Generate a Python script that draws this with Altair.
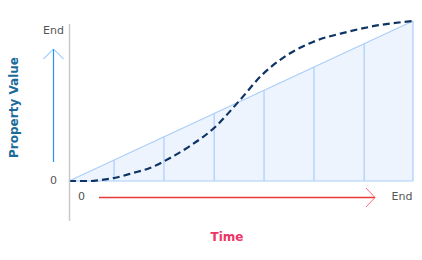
import altair as alt
import pandas as pd

# Linear reference (triangle) and eased curve, normalized time 0..1, value 0..1
curve_t = [0.0, 0.061, 0.09, 0.131, 0.186, 0.235, 0.294, 0.352, 0.4215, 0.497, 0.561, 0.613, 0.709, 0.808, 0.904, 1.0]
curve_v = [0.0, 0.0, 0.006, 0.019, 0.05, 0.081, 0.144, 0.219, 0.331, 0.506, 0.663, 0.756, 0.869, 0.931, 0.975, 1.0]
linear_t = [0.0, 1.0]
linear_v = [0.0, 1.0]
grid_t = [0.131, 0.276, 0.422, 0.567, 0.712, 0.858, 1.0]

curve = pd.DataFrame({"t": curve_t, "v": curve_v})
lin = pd.DataFrame({"t": linear_t, "v": linear_v})
grid = pd.DataFrame({"t": grid_t, "v": grid_t, "z": [0.0] * len(grid_t)})

xs = alt.Scale(domain=[-69 / 344, (422 - 69) / 344], range=[0, 422], nice=False, zero=False)
ys = alt.Scale(domain=[(181 - 260) / 160, 181 / 160], range=[260, 0], nice=False, zero=False)
X = alt.X("t:Q", scale=xs, axis=None)
Y = alt.Y("v:Q", scale=ys, axis=None)

area = alt.Chart(lin).mark_area(color="#e6effd", line={"color": "#aacdf9", "strokeWidth": 1.2}).encode(x=X, y=Y)
base = alt.Chart(lin).mark_rule(color="#aacdf9", strokeWidth=1.2).encode(
    x=alt.X("min(t):Q", scale=xs, axis=None), x2="max(t):Q", y=alt.Y("min(v):Q", scale=ys, axis=None))
vlines = alt.Chart(grid).mark_rule(color="#aacdf9", strokeWidth=1.2).encode(
    x=X, y=alt.Y("z:Q", scale=ys, axis=None), y2="v:Q")
line = alt.Chart(curve).mark_line(color="#0d3464", strokeWidth=2.2, strokeDash=[7, 4], interpolate="monotone").encode(x=X, y=Y)

one = alt.Data(values=[{}])

def seg(x, y, x2, y2, color, w=1.0):
    return alt.Chart(one).mark_rule(color=color, strokeWidth=w).encode(
        x=alt.value(x), y=alt.value(y), x2=alt.value(x2), y2=alt.value(y2))

def txt(s, x, y, color="#555555", size=11, bold=False, align="center", angle=0):
    return alt.Chart(one).mark_text(text=s, color=color, fontSize=size, font="DejaVu Sans",
                                    fontWeight="bold" if bold else "normal", align=align,
                                    baseline="middle", angle=angle).encode(x=alt.value(x), y=alt.value(y))

deco = [
    seg(69.5, 24, 69.5, 221, "#c8c8c8", 1.5),
    seg(53.5, 162, 53.5, 49, "#2a8fef", 1.2),
    seg(53.5, 49, 43.5, 59, "#66b3ff", 1.0),
    seg(53.5, 49, 63.5, 59, "#66b3ff", 1.0),
    seg(99, 197.5, 375, 197.5, "#e8393a", 1.3),
    seg(375, 197.5, 366, 188, "#ff6b7a", 1.0),
    seg(375, 197.5, 366, 207, "#ff6b7a", 1.0),
    txt("End", 64, 31, align="right"),
    txt("0", 57, 181, align="right"),
    txt("0", 81.5, 197),
    txt("End", 402, 197),
    txt("Property Value", 14, 107.5, color="#1a6a9a", size=12, bold=True, angle=270),
    txt("Time", 227, 236.5, color="#ee3366", size=12, bold=True),
]

chart = alt.layer(area, base, vlines, line, *deco).properties(
    width=422, height=260, padding=0, autosize="none"
).configure_view(stroke=None)

chart.save("out.html", embed_options={"renderer": "svg", "actions": False})
